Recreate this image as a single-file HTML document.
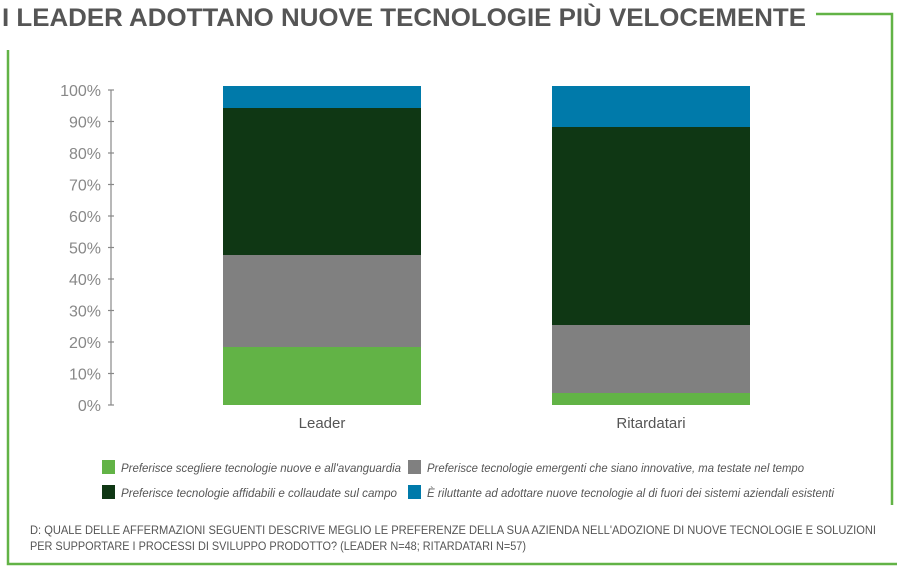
<!DOCTYPE html>
<html><head><meta charset="utf-8"><style>
html,body{margin:0;padding:0;background:#fff;width:900px;height:569px;overflow:hidden}
svg{display:block}
</style></head><body>
<svg width="900" height="569" xmlns="http://www.w3.org/2000/svg" font-family="Liberation Sans, sans-serif">
<!-- border -->
<polyline points="816,14 892,14 892,505" fill="none" stroke="#62b346" stroke-width="2.5"/>
<polyline points="8,50 8,564 897,564" fill="none" stroke="#62b346" stroke-width="2.5"/>
<text x="2" y="26" font-size="25" font-weight="bold" fill="#555" textLength="804" lengthAdjust="spacingAndGlyphs">I LEADER ADOTTANO NUOVE TECNOLOGIE PIÙ VELOCEMENTE</text>
<!-- axis -->
<g stroke="#888" stroke-width="1.2">
<line x1="111" y1="90" x2="111" y2="405"/>
<line x1="108" y1="90" x2="114" y2="90"/><line x1="108" y1="121.5" x2="114" y2="121.5"/>
<line x1="108" y1="153" x2="114" y2="153"/><line x1="108" y1="184.5" x2="114" y2="184.5"/>
<line x1="108" y1="216" x2="114" y2="216"/><line x1="108" y1="247.5" x2="114" y2="247.5"/>
<line x1="108" y1="279" x2="114" y2="279"/><line x1="108" y1="310.5" x2="114" y2="310.5"/>
<line x1="108" y1="342" x2="114" y2="342"/><line x1="108" y1="373.5" x2="114" y2="373.5"/>
<line x1="108" y1="405" x2="114" y2="405"/>
</g>
<g font-size="16" fill="#888" text-anchor="end">
<text x="101" y="96">100%</text><text x="101" y="127.5">90%</text><text x="101" y="159">80%</text>
<text x="101" y="190.5">70%</text><text x="101" y="222">60%</text><text x="101" y="253.5">50%</text>
<text x="101" y="285">40%</text><text x="101" y="316.5">30%</text><text x="101" y="348">20%</text>
<text x="101" y="379.5">10%</text><text x="101" y="411">0%</text>
</g>
<!-- Leader -->
<rect x="223" y="86" width="198" height="22" fill="#007aaa"/>
<rect x="223" y="108" width="198" height="147" fill="#0f3714"/>
<rect x="223" y="255" width="198" height="92" fill="#808080"/>
<rect x="223" y="347" width="198" height="58" fill="#62b346"/>
<!-- Ritardatari -->
<rect x="552" y="86" width="198" height="41" fill="#007aaa"/>
<rect x="552" y="127" width="198" height="198" fill="#0f3714"/>
<rect x="552" y="325" width="198" height="68" fill="#808080"/>
<rect x="552" y="393" width="198" height="12" fill="#62b346"/>
<g font-size="15" fill="#555" text-anchor="middle">
<text x="322" y="428">Leader</text><text x="651" y="428">Ritardatari</text>
</g>
<!-- legend -->
<rect x="102" y="460" width="13" height="14" fill="#62b346"/>
<rect x="408" y="460" width="13" height="14" fill="#808080"/>
<rect x="102" y="485" width="13" height="14" fill="#0f3714"/>
<rect x="408" y="485" width="13" height="14" fill="#007aaa"/>
<g font-size="11.5" font-style="italic" fill="#555">
<text x="121" y="472" textLength="280" lengthAdjust="spacingAndGlyphs">Preferisce scegliere tecnologie nuove e all'avanguardia</text>
<text x="427" y="472" textLength="377" lengthAdjust="spacingAndGlyphs">Preferisce tecnologie emergenti che siano innovative, ma testate nel tempo</text>
<text x="121" y="497" textLength="276" lengthAdjust="spacingAndGlyphs">Preferisce tecnologie affidabili e collaudate sul campo</text>
<text x="427" y="497" textLength="407" lengthAdjust="spacingAndGlyphs">È riluttante ad adottare nuove tecnologie al di fuori dei sistemi aziendali esistenti</text>
</g>
<g font-size="11.5" fill="#555">
<text x="30" y="534" textLength="846" lengthAdjust="spacingAndGlyphs">D: QUALE DELLE AFFERMAZIONI SEGUENTI DESCRIVE MEGLIO LE PREFERENZE DELLA SUA AZIENDA NELL'ADOZIONE DI NUOVE TECNOLOGIE E SOLUZIONI</text>
<text x="30" y="550" textLength="496" lengthAdjust="spacingAndGlyphs">PER SUPPORTARE I PROCESSI DI SVILUPPO PRODOTTO? (LEADER N=48; RITARDATARI N=57)</text>
</g>
</svg>
</body></html>
